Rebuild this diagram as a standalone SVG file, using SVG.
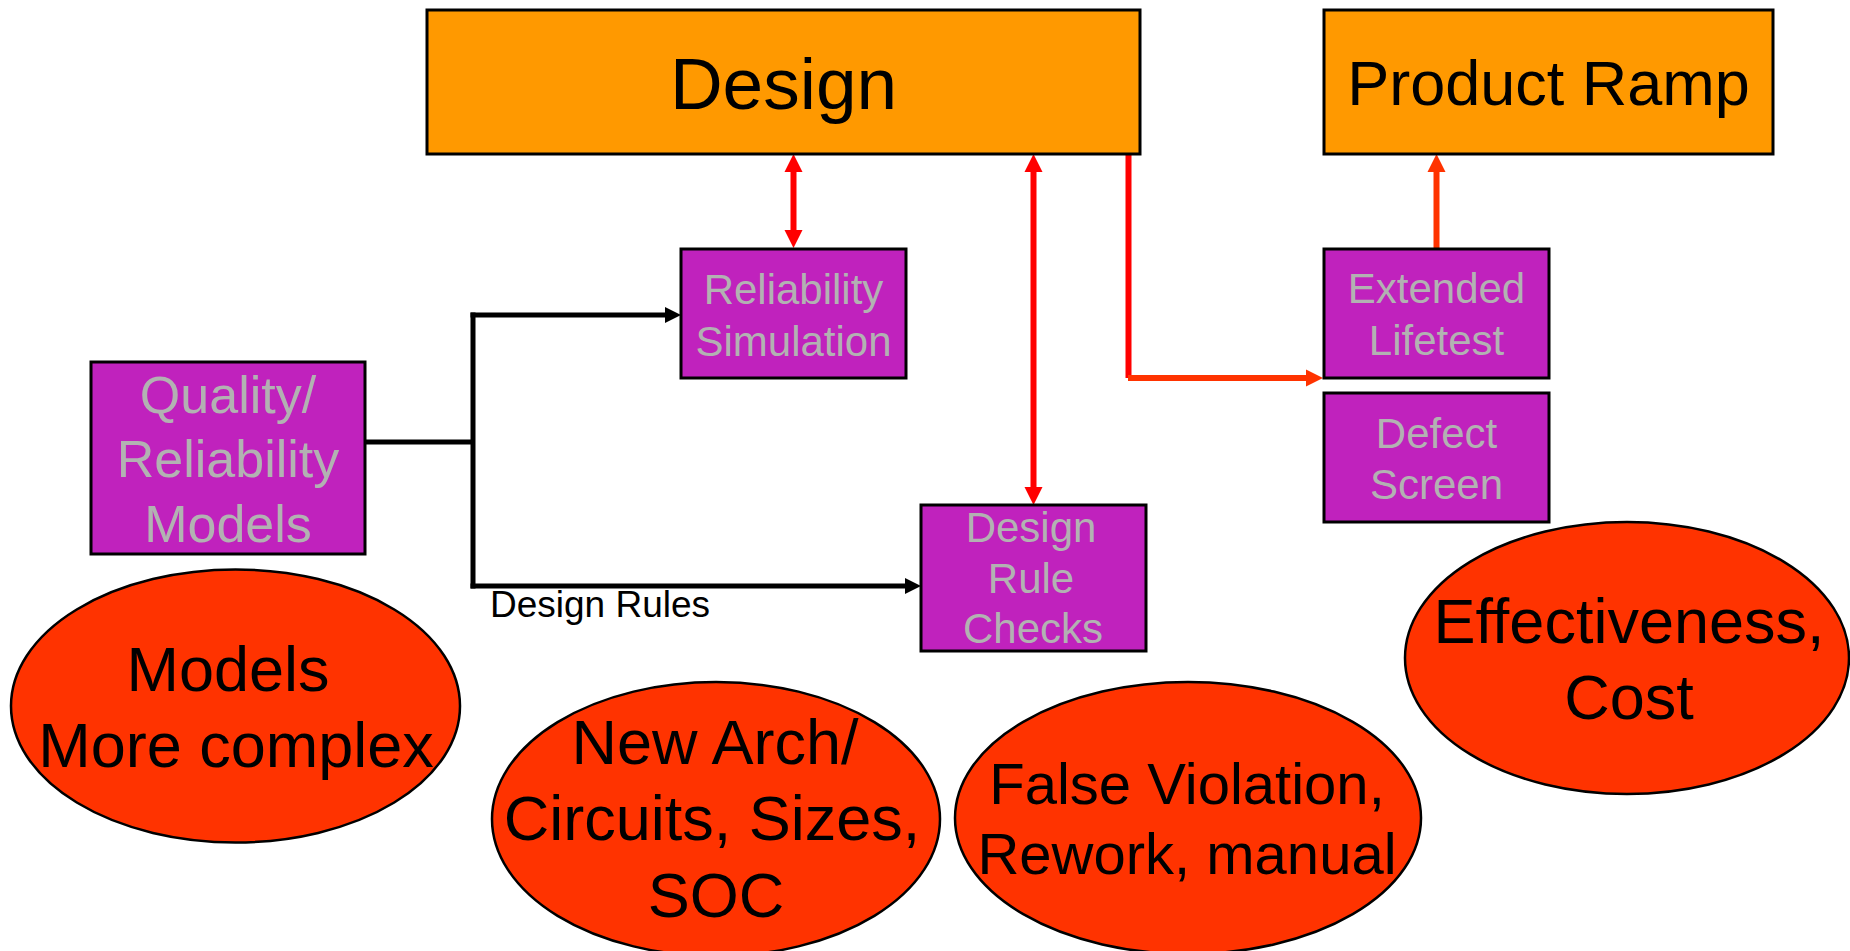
<svg xmlns="http://www.w3.org/2000/svg" width="1850" height="951" viewBox="0 0 1850 951">
<defs>
<style>
.orange{fill:#FF9900;stroke:#000;stroke-width:3}
.mag{fill:#C022BD;stroke:#000;stroke-width:3}
.ell{fill:#FF3300;stroke:#000;stroke-width:2.5}
text{font-family:"Liberation Sans",Arial,sans-serif;text-anchor:middle}
.big{fill:#000}
.gray{fill:#B2B2B2;font-size:42px}
.blk{fill:none;stroke:#000;stroke-width:5}
.red{fill:none;stroke:#FF0000;stroke-width:6}
.ored{fill:none;stroke:#FF3300;stroke-width:6}
.hB{fill:#000}
.hR{fill:#FF0000}
.hO{fill:#FF3300}
</style>
</defs>
<rect width="1850" height="951" fill="#fff"/>

<g id="connectors">
<path class="blk" d="M365,442 H473"/>
<path class="blk" d="M473,312.5 V588.5"/>
<path class="blk" d="M470.5,315 H667"/>
<polygon class="hB" points="681,315 665,307 665,323"/>
<path class="blk" d="M470.5,586 H907"/>
<polygon class="hB" points="921,586 905,578 905,594"/>
<path class="red" d="M793.5,170 V232"/>
<polygon class="hR" points="793.5,154 784.5,172 802.5,172"/>
<polygon class="hR" points="793.5,248 784.5,230 802.5,230"/>
<path class="red" d="M1033.5,170 V489"/>
<polygon class="hR" points="1033.5,154 1024.5,172 1042.5,172"/>
<polygon class="hR" points="1033.5,505 1024.5,487 1042.5,487"/>
<path class="red" d="M1128.5,153 V378"/>
<path class="ored" d="M1128,378 H1308"/>
<polygon class="hO" points="1323,378 1306,369.5 1306,386.5"/>
<path class="ored" d="M1436.5,249 V170"/>
<polygon class="hO" points="1436.5,154 1427.5,172 1445.5,172"/>
<text x="600" y="617" class="big" style="font-size:37px">Design Rules</text>
</g>

<g id="design">
<rect class="orange" x="427" y="10" width="713" height="144"/>
<text x="783.5" y="109" class="big" style="font-size:73px">Design</text>
</g>

<g id="product-ramp">
<rect class="orange" x="1324" y="10" width="449" height="144"/>
<text x="1548.5" y="105" class="big" style="font-size:63px">Product Ramp</text>
</g>

<g id="reliability-simulation">
<rect class="mag" x="681" y="249" width="225" height="129"/>
<text x="793.5" y="304" class="gray">Reliability</text>
<text x="793.5" y="356" class="gray">Simulation</text>
</g>

<g id="extended-lifetest">
<rect class="mag" x="1324" y="249" width="225" height="129"/>
<text x="1436.5" y="303" class="gray">Extended</text>
<text x="1436.5" y="355" class="gray">Lifetest</text>
</g>

<g id="defect-screen">
<rect class="mag" x="1324" y="393" width="225" height="129"/>
<text x="1436.5" y="448" class="gray">Defect</text>
<text x="1436.5" y="499" class="gray">Screen</text>
</g>

<g id="quality-models">
<rect class="mag" x="91" y="362" width="274" height="192"/>
<text x="228" y="413" class="gray" style="font-size:52px">Quality/</text>
<text x="228" y="477" class="gray" style="font-size:52px">Reliability</text>
<text x="228" y="542" class="gray" style="font-size:52px">Models</text>
</g>

<g id="design-rule-checks">
<rect class="mag" x="921" y="505" width="225" height="146"/>
<text x="1031" y="542" class="gray">Design</text>
<text x="1031" y="593" class="gray">Rule</text>
<text x="1033" y="643" class="gray">Checks</text>
</g>

<g id="models-complex">
<ellipse class="ell" cx="235.5" cy="706" rx="224.5" ry="136.5"/>
<text x="228" y="691" class="big" style="font-size:63px">Models</text>
<text x="236" y="767" class="big" style="font-size:63px">More complex</text>
</g>

<g id="new-arch">
<ellipse class="ell" cx="716" cy="819" rx="224" ry="137"/>
<text x="715" y="764" class="big" style="font-size:63px">New Arch/</text>
<text x="712" y="840" class="big" style="font-size:63px">Circuits, Sizes,</text>
<text x="716" y="917" class="big" style="font-size:63px">SOC</text>
</g>

<g id="false-violation">
<ellipse class="ell" cx="1188" cy="818" rx="233" ry="136"/>
<text x="1187" y="804" class="big" style="font-size:58px">False Violation,</text>
<text x="1187" y="874" class="big" style="font-size:58px">Rework, manual</text>
</g>

<g id="effectiveness-cost">
<ellipse class="ell" cx="1627" cy="658" rx="222" ry="136"/>
<text x="1629" y="643" class="big" style="font-size:63px">Effectiveness,</text>
<text x="1629" y="719" class="big" style="font-size:63px">Cost</text>
</g>
</svg>
